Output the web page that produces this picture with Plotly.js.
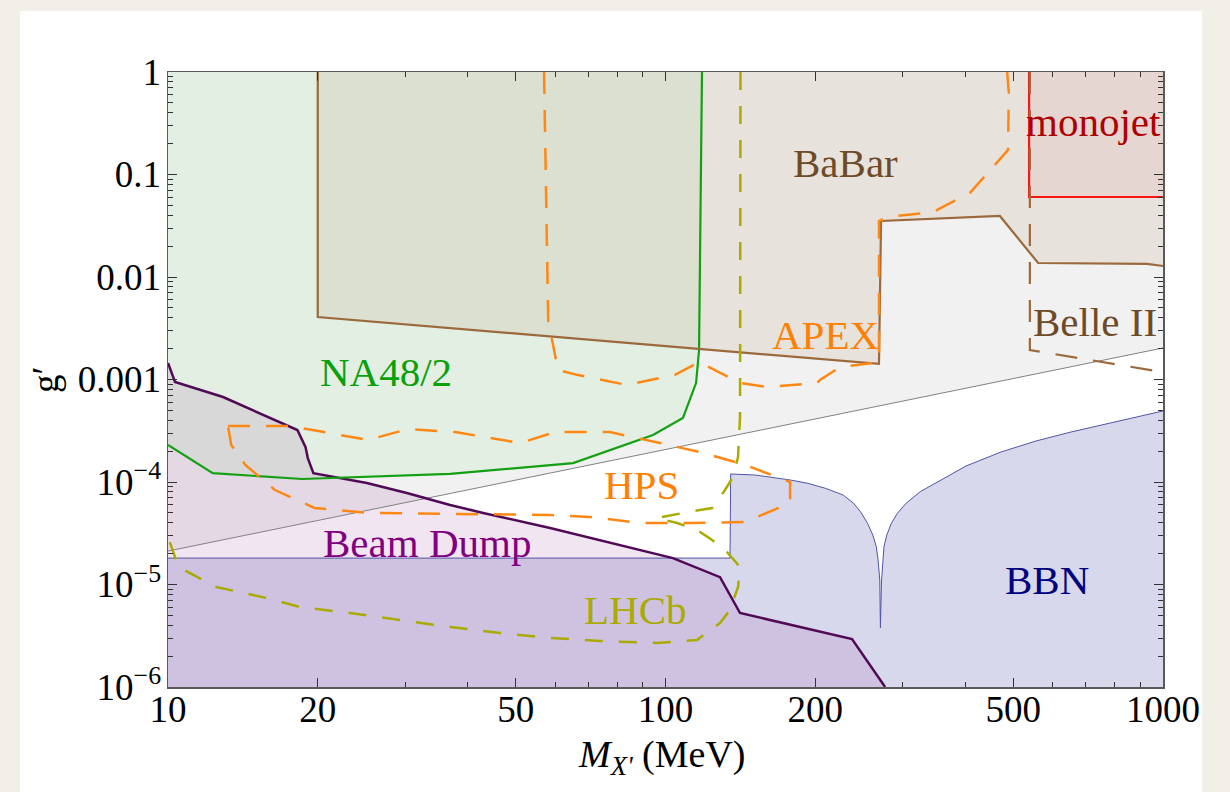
<!DOCTYPE html>
<html>
<head>
<meta charset="utf-8">
<script src="https://cdn.plot.ly/plotly-3.0.1.min.js"></script>
<style>
  html, body { margin:0; padding:0; width:1230px; height:792px; overflow:hidden; background:#f2efe9; }
  #card { position:absolute; left:20px; top:11px; width:1182px; height:781px; background:#ffffff; }
  #plot { position:absolute; left:0; top:0; width:1230px; height:792px; }
</style>
</head>
<body>
<div id="card"></div>
<div id="plot"></div>
<script>
// ---- axis limits ----
const xMin = 10, xMax = 1000, yMin = 1e-6, yMax = 1, yBelow = 1e-7;

// ---- thin grey reference line ----
const greyX = [10, 1000];
const greyY = [2.12e-5, 2.03e-3];

// ---- NA48/2 (excluded above) ----
const na48X = [10, 12.3, 18.6, 36.9, 65.2, 94.4, 108.4, 115.2, 116.8, 118.4];
const na48Y = [2.3e-4, 1.22e-4, 1.07e-4, 1.2e-4, 1.53e-4, 2.87e-4, 4.21e-4, 9.24e-4, 1.94e-3, 1];

// ---- BaBar (excluded above) ----
const babarX = [20, 20, 268.6, 271.2, 470, 561, 929, 1000];
const babarY = [1, 4.07e-3, 1.42e-3, 0.0352, 0.0394, 0.0137, 0.0134, 0.0128];

// ---- monojet ----
const monoX = [538, 538, 1000];
const monoY = [1, 0.0603, 0.0603];

// ---- Belle II projection ----
const belleX = [540, 540, 1000];
const belleY = [1, 1.94e-3, 1.18e-3];

// ---- APEX projection ----
const apexX = [57.0, 58.1, 60.8, 66.4, 83.7, 104.5, 116.8, 141.2, 160, 201.6, 204.4, 224.3, 268.6, 268.6, 280, 345, 409, 488, 490, 486];
const apexY = [1, 3.81e-3, 1.24e-3, 1.11e-3, 8.84e-4, 1.11e-3, 1.48e-3, 9.24e-4, 8.45e-4, 9.24e-4, 9.89e-4, 1.32e-3, 1.48e-3, 0.0352, 0.0385, 0.0431, 0.066, 0.173, 0.624, 1];

// ---- HPS projection (closed) ----
const hpsX = [13.2, 17.6, 25.2, 30.4, 37.8, 51.0, 60.0, 77.3, 97.5, 117.3, 144.5, 178, 178, 144.5, 112, 88.9, 70.5, 58.6, 25.5, 19.7, 16.4, 14.3, 13.4, 13.2];
const hpsY = [3.52e-4, 3.52e-4, 2.57e-4, 3.29e-4, 3.07e-4, 2.40e-4, 3.07e-4, 3.07e-4, 2.40e-4, 1.96e-4, 1.47e-4, 1.0e-4, 6.24e-5, 4.07e-5, 3.98e-5, 3.98e-5, 4.56e-5, 4.77e-5, 4.99e-5, 5.58e-5, 8.35e-5, 1.47e-4, 2.30e-4, 3.52e-4];

// ---- LHCb projection ----
const lhcbX = [141.5, 141.2, 141.2, 140.5, 139.9, 136.7, 131.7, 124.1, 113.6, 96.1, 105.5, 115.7, 124.1, 133.0, 141.2, 139.9, 134.8, 128.7, 115.7, 96.1, 73.8, 58.6, 46.5, 36.9, 29.3, 23.2, 18.4, 15.8, 12.5, 10.5, 10];
const lhcbY = [1, 1.73e-3, 4.31e-4, 2.75e-4, 1.75e-4, 1.12e-4, 8.36e-5, 5.57e-5, 5.21e-5, 4.45e-5, 3.98e-5, 3.40e-5, 2.72e-5, 2.07e-5, 1.48e-5, 9.46e-6, 5.64e-6, 4.21e-6, 2.88e-6, 2.69e-6, 2.81e-6, 3.01e-6, 3.37e-6, 3.85e-6, 4.51e-6, 5.27e-6, 6.03e-6, 7.38e-6, 9.46e-6, 1.48e-5, 2.9e-5];

// ---- Beam dump (excluded below) ----
const bdX = [10, 10.33, 12.9, 18.2, 18.9, 19.1, 19.6, 25.1, 30.2, 36.9, 43.0, 58.6, 103.5, 128.7, 141.2, 237.1, 276.3];
const bdY = [1.45e-3, 9.46e-4, 6.75e-4, 3.21e-4, 2.19e-4, 1.71e-4, 1.22e-4, 9.78e-5, 7.81e-5, 5.97e-5, 4.99e-5, 3.56e-5, 1.81e-5, 1.18e-5, 5.27e-6, 2.94e-6, 1e-6];

// ---- BBN (excluded below) ----
const bbnX = [10, 134.8, 135.2, 151.5, 178.3, 193.3, 209.6, 227.5, 238.8, 246.6, 254.7, 261.0, 265.3, 267.5, 269.6, 270.4,
              271.8, 273.1, 274.9, 278.5, 284.5, 292.5, 304.5, 325.1, 352.4, 401.8, 472.4, 555.5, 653.1, 768.2, 1000];
const bbnY = [1.81e-5, 1.81e-5, 1.197e-4, 1.17e-4, 1.046e-4, 9.71e-5, 8.68e-5, 7.47e-5, 6.2e-5, 5.13e-5, 3.96e-5, 3.04e-5, 2.34e-5, 1.73e-5, 1.106e-5, 3.79e-6,
              1.106e-5, 1.73e-5, 2.34e-5, 3.04e-5, 3.96e-5, 4.95e-5, 6.2e-5, 8.04e-5, 1.007e-4, 1.432e-4, 1.962e-4, 2.512e-4, 3.074e-4, 3.68e-4, 4.93e-4];

// ---- ticks ----
const xTickVals = [10, 20, 50, 100, 200, 500, 1000];
const xTickText = ['10', '20', '50', '100', '200', '500', '1000'];
const xMinorVals = [30, 40, 60, 70, 80, 90, 300, 400, 600, 700, 800, 900];
const yTickVals = [1e-6, 1e-5, 1e-4, 1e-3, 1e-2, 1e-1, 1];
const yTickText = ['10<sup>−6</sup>', '10<sup>−5</sup>', '10<sup>−4</sup>', '0.001', '0.01', '0.1', '1'];
const yMinorVals = [];
[1e-6, 1e-5, 1e-4, 1e-3, 1e-2, 1e-1].forEach(d => { for (let k = 2; k <= 9; k++) yMinorVals.push(k * d); });

// ---- labels ----
const labels = [
  {text: 'NA48/2',    px: 386,  py: 372, color: 'rgb(10,160,10)'},
  {text: 'BaBar',     px: 845,  py: 163, color: 'rgb(110,75,40)'},
  {text: 'monojet',   px: 1093, py: 122, color: 'rgb(175,0,0)'},
  {text: 'APEX',      px: 825,  py: 335, color: 'rgb(255,128,0)'},
  {text: 'Belle II',  px: 1095, py: 322, color: 'rgb(110,75,40)'},
  {text: 'HPS',       px: 641,  py: 485, color: 'rgb(255,128,0)'},
  {text: 'Beam Dump', px: 427,  py: 543, color: 'rgb(128,0,128)'},
  {text: 'LHCb',      px: 635,  py: 610, color: 'rgb(170,170,0)'},
  {text: 'BBN',       px: 1047, py: 580, color: 'rgb(0,0,128)'}
];

// ---- build traces ----
function fillTrace(x, y, color) {
  return {x: x, y: y, mode: 'lines', fill: 'toself', fillcolor: color,
          line: {width: 0, color: 'rgba(0,0,0,0)'}, hoverinfo: 'skip', type: 'scatter'};
}
function lineTrace(x, y, color, width, dash) {
  return {x: x, y: y, mode: 'lines', line: {color: color, width: width, dash: dash || 'solid'},
          hoverinfo: 'skip', type: 'scatter'};
}

const traces = [
  fillTrace(greyX.concat([xMax, xMin]), greyY.concat([yMax, yMax]), 'rgba(128,128,128,0.11)'),
  fillTrace(bbnX.concat([xMax, xMin]), bbnY.concat([yBelow, yBelow]), 'rgba(0,0,128,0.153)'),
  fillTrace(bdX.concat([bdX[bdX.length-1], xMin]), bdY.concat([yBelow, yBelow]), 'rgba(128,0,128,0.1)'),
  fillTrace(na48X.concat([xMin]), na48Y.concat([yMax]), 'rgba(0,210,0,0.055)'),
  fillTrace(babarX.concat([xMax]), babarY.concat([yMax]), 'rgba(153,102,51,0.1)'),
  fillTrace(monoX.concat([xMax]), monoY.concat([yMax]), 'rgba(200,0,0,0.05)'),

  lineTrace(greyX, greyY, 'rgb(130,130,130)', 1),
  lineTrace(bbnX, bbnY, 'rgb(80,85,165)', 1),
  lineTrace(bdX, bdY, 'rgb(80,10,85)', 2.5),
  lineTrace(na48X, na48Y, 'rgb(20,160,20)', 2.2),
  lineTrace(babarX, babarY, 'rgb(155,105,60)', 2.2),
  lineTrace(monoX, monoY, 'rgb(250,20,20)', 2.2),
  lineTrace(belleX, belleY, 'rgb(155,105,60)', 2.2, '22px,16px'),
  lineTrace(lhcbX, lhcbY, 'rgb(170,170,0)', 2.5, '18px,16px'),
  lineTrace(apexX, apexY, 'rgb(255,135,20)', 2.5, '22px,16px'),
  lineTrace(hpsX, hpsY, 'rgb(255,135,20)', 2.5, '22px,16px')
];

// ---- layout ----
const L = 168, R = 1163, T = 72, B = 687;
const toPaperX = px => (px - L) / (R - L);
const toPaperY = py => (B - py) / (B - T);
const font = 'Liberation Serif, Times New Roman, serif';

const annotations = labels.map(l => ({
  text: l.text, x: toPaperX(l.px), y: toPaperY(l.py), xref: 'paper', yref: 'paper',
  xanchor: 'center', yanchor: 'middle', showarrow: false,
  font: {family: font, size: 41, color: l.color}
}));
annotations.push({
  text: 'g′', x: toPaperX(46), y: toPaperY(380), xref: 'paper', yref: 'paper', textangle: -90,
  xanchor: 'center', yanchor: 'middle', showarrow: false,
  font: {family: font, size: 37, color: 'black'}
});
annotations.push({
  text: '<i>M</i><sub><i>X\'</i></sub> (MeV)', x: toPaperX(662), y: toPaperY(757), xref: 'paper', yref: 'paper',
  xanchor: 'center', yanchor: 'middle', showarrow: false,
  font: {family: font, size: 38, color: 'black'}
});

const axisCommon = {
  showgrid: false, zeroline: false, showline: true, linecolor: 'rgb(90,90,90)', linewidth: 1.5,
  mirror: 'allticks', ticks: 'inside', ticklen: 9, tickwidth: 1, tickcolor: 'rgb(50,50,50)',
  tickfont: {family: font, size: 37, color: 'black'}
};

const layout = {
  width: 1230, height: 792,
  margin: {l: L, r: 1230 - R, t: T, b: 792 - B},
  paper_bgcolor: 'rgba(0,0,0,0)', plot_bgcolor: 'rgba(0,0,0,0)',
  showlegend: false,
  xaxis: Object.assign({}, axisCommon, {
    type: 'log', range: [Math.log10(xMin), Math.log10(xMax)],
    tickmode: 'array', tickvals: xTickVals, ticktext: xTickText,
    minor: {tickmode: 'array', tickvals: xMinorVals, ticks: 'inside', ticklen: 5, tickwidth: 1, tickcolor: 'rgb(50,50,50)'},
    ticklabelstandoff: -11
  }),
  yaxis: Object.assign({}, axisCommon, {
    type: 'log', range: [Math.log10(yMin), Math.log10(yMax)],
    tickmode: 'array', tickvals: yTickVals, ticktext: yTickText,
    minor: {tickmode: 'array', tickvals: yMinorVals, ticks: 'inside', ticklen: 5, tickwidth: 1, tickcolor: 'rgb(50,50,50)'},
    ticklabelstandoff: -2
  }),
  annotations: annotations
};

Plotly.newPlot('plot', traces, layout, {staticPlot: true, displayModeBar: false});
</script>
</body>
</html>
